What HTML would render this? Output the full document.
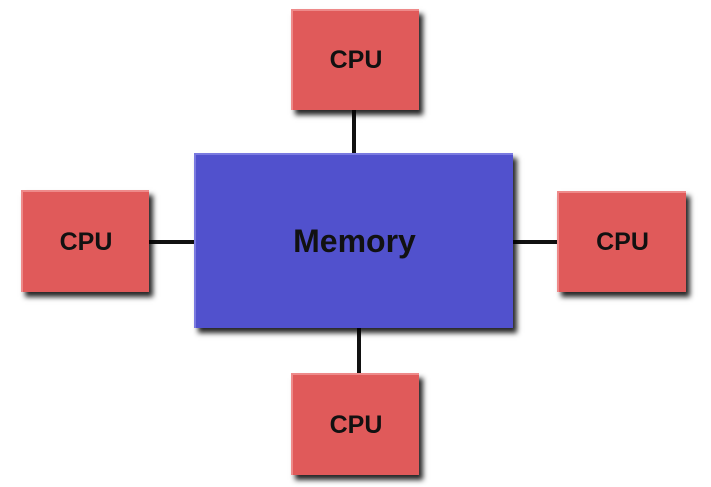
<!DOCTYPE html>
<html><head><style>
body{margin:0;width:711px;height:487px;background:#fff;position:relative;overflow:hidden;font-family:"Liberation Sans",sans-serif;}
.b{position:absolute;display:flex;align-items:center;justify-content:center;font-weight:bold;color:#111;box-shadow:4px 5px 5px rgba(0,0,0,0.85);}
.c{background:#e05a5a;font-size:25px;border-top:2px solid #ee8a8a;border-left:2px solid #ee8a8a;box-sizing:border-box;}
.m{background:#5151cd;font-size:32px;border-top:2px solid #7a7ae0;border-left:2px solid #7a7ae0;box-sizing:border-box;}
.l{position:absolute;background:#111;}
</style></head><body>
<div class="l" style="left:352px;top:108px;width:4px;height:47px"></div>
<div class="l" style="left:147px;top:240px;width:49px;height:4px"></div>
<div class="l" style="left:511px;top:240px;width:48px;height:4px"></div>
<div class="l" style="left:357px;top:326px;width:4px;height:49px"></div>
<div class="b m" style="left:194px;top:153px;width:319px;height:175px">Memory</div>
<div class="b c" style="left:291px;top:9px;width:128px;height:101px">CPU</div>
<div class="b c" style="left:21px;top:190px;width:128px;height:102px">CPU</div>
<div class="b c" style="left:557px;top:191px;width:129px;height:101px">CPU</div>
<div class="b c" style="left:291px;top:373px;width:128px;height:102px">CPU</div>
</body></html>
